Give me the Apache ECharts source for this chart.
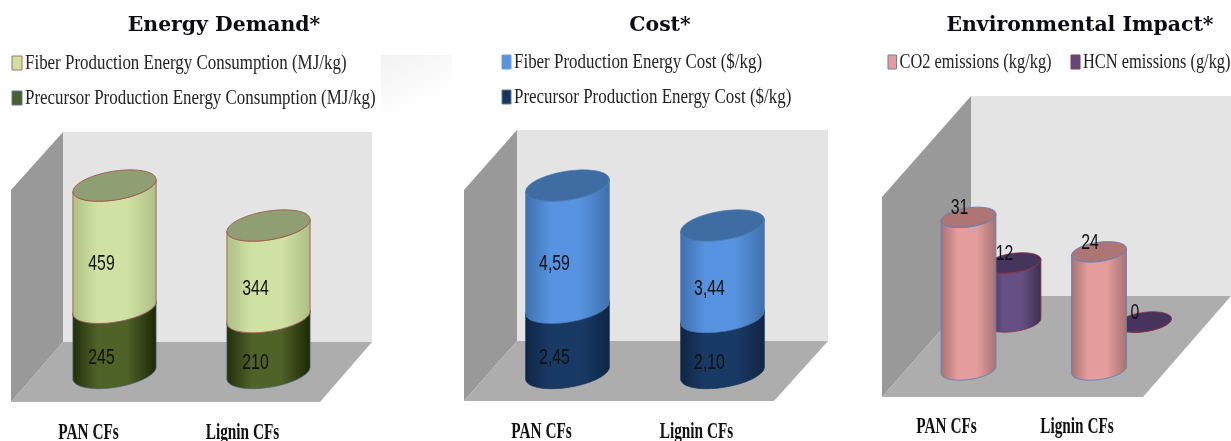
<!DOCTYPE html>
<html>
<head>
<meta charset="utf-8">
<style>html,body{margin:0;padding:0;background:#fff}#chart{width:1231px;height:441px}</style>
<script src="https://cdn.jsdelivr.net/npm/echarts@6/dist/echarts.min.js"></script>
</head>
<body>
<div id="chart"></div>
<script>
// Carbon fibre comparison: energy demand, cost and environmental impact
const categories = ['PAN CFs', 'Lignin CFs'];
const fiberEnergy = [459, 344];
const precursorEnergy = [245, 210];
const fiberCost = [4.59, 3.44];
const precursorCost = [2.45, 2.10];
const co2Emissions = [31, 24];
const hcnEmissions = [12, 0];

const SERIF = '"Liberation Serif",serif';
const SANS = '"Liberation Sans",sans-serif';
const hGrad = (edge, mid, edge2) => new echarts.graphic.LinearGradient(0, 0, 1, 0, [
  { offset: 0, color: edge }, { offset: 0.3, color: mid }, { offset: 0.65, color: mid }, { offset: 1, color: edge2 || edge }
]);

const palettes = {
  fiberGreen: { edge: '#aebf85', mid: '#d0e2a3', cap: '#8f9f73', line: 'rgba(160,85,75,0.85)', swatch: '#cfe0a0' },
  darkGreen: { edge: '#232e0c', mid: '#4f6227', edge2: '#1c2707', cap: '#4a5a26', line: 'rgba(70,100,120,0.7)', swatch: '#4a5f2e' },
  fiberBlue: { edge: '#3f70ae', mid: '#5793e0', cap: '#3f6ca3', line: 'rgba(74,120,180,0.7)', swatch: '#5793e0' },
  darkBlue: { edge: '#0f2545', mid: '#1a3a66', cap: '#17355e', line: 'rgba(20,48,79,0.7)', swatch: '#17365f' },
  pink: { edge: '#a67272', mid: '#e49c9c', cap: '#ad7573', line: 'rgba(95,128,187,0.9)', swatch: '#e49c9c' },
  purple: { edge: '#3d2c52', mid: '#665083', cap: '#46345c', line: 'rgba(138,48,64,0.8)', swatch: '#5d4a7c' }
};

// Sheared ellipse outline from angle t0 to t1
function arc(cx, cy, a, b, skew, t0, t1) {
  const pts = [];
  for (let k = 0; k <= 48; k++) {
    const t = t0 + (t1 - t0) * k / 48;
    pts.push([cx + a * Math.cos(t), cy + b * Math.sin(t) - skew * Math.cos(t)]);
  }
  return pts;
}

function cylinderSeries(name, values, bases, opt) {
  const pal = palettes[opt.palette];
  return {
    name,
    type: 'custom',
    coordinateSystem: 'cartesian2d',
    xAxisIndex: opt.panel,
    yAxisIndex: opt.panel,
    z: opt.z || 2,
    itemStyle: { color: pal.swatch },
    encode: { x: 0, y: [1, 2] },
    data: values.map((v, i) => [i, bases[i], bases[i] + v, v]),
    renderItem(params, api) {
      const i = api.value(0);
      const lo = api.coord([i, api.value(1)]);
      const hi = api.coord([i, api.value(2)]);
      const dx = opt.depthX || 0, dy = opt.depthY || 0;
      const cx = lo[0] + dx;
      const a = api.size([1, 0])[0] * opt.widthRatio / 2;
      const yLo = lo[1] + dy, yHi = hi[1] + dy;
      const body = [[cx - a, yHi + opt.skew]].concat(
        arc(cx, yLo, a, opt.minor, opt.skew, Math.PI, 0),
        [[cx + a, yHi - opt.skew]],
        arc(cx, yHi, a, opt.minor, opt.skew, 0, Math.PI)
      );
      const lineStyle = { stroke: pal.line, lineWidth: 1 };
      const txt = opt.format(api.value(3));
      const labelY = opt.labelAtTop ? yHi - 9 : (yLo + yHi) / 2 + 17.5;
      const children = [
        { type: 'polygon', shape: { points: body },
          style: Object.assign({ fill: hGrad(pal.edge, pal.mid, pal.edge2) }, lineStyle) },
        { type: 'polygon', shape: { points: arc(cx, yHi, a, opt.minor, opt.skew, 0, Math.PI * 2) },
          style: Object.assign({ fill: pal.cap }, lineStyle) },
        { type: 'text', z2: 10, x: cx - 13 + (opt.labelAtTop ? 4 : 0), y: labelY, scaleX: 0.72,
          style: { text: txt, fill: '#111', font: '22px ' + SANS, align: 'center', verticalAlign: 'middle' } }
      ];
      // Category caption sits under the front edge of the floor
      if (opt.caption) {
        children.push({ type: 'text', z2: 10, x: cx - opt.caption.back, y: lo[1] + opt.caption.drop, scaleX: 0.665,
          style: { text: categories[i], fill: '#111', font: 'bold 23px ' + SERIF, align: 'center', verticalAlign: 'middle' } });
      }
      return { type: 'group', children };
    }
  };
}

const zeros = [0, 0];
const plain = v => String(v);
const comma = v => v.toFixed(2).replace('.', ',');
const tall = { widthRatio: 0.54, skew: 6, minor: 14.5 };
const slim = { widthRatio: 0.42, skew: 3.4, minor: 9.6, labelAtTop: true, format: plain };

const series = [
  cylinderSeries('Precursor Production Energy Consumption (MJ/kg)', precursorEnergy, zeros,
    Object.assign({ panel: 0, palette: 'darkGreen', format: plain, caption: { back: 26, drop: 60 } }, tall)),
  cylinderSeries('Fiber Production Energy Consumption (MJ/kg)', fiberEnergy, precursorEnergy,
    Object.assign({ panel: 0, palette: 'fiberGreen', format: plain, z: 3 }, tall)),
  cylinderSeries('Precursor Production Energy Cost ($/kg)', precursorCost, zeros,
    Object.assign({ panel: 1, palette: 'darkBlue', format: comma, caption: { back: 26, drop: 59 } }, tall)),
  cylinderSeries('Fiber Production Energy Cost ($/kg)', fiberCost, precursorCost,
    Object.assign({ panel: 1, palette: 'fiberBlue', format: comma, z: 3 }, tall)),
  cylinderSeries('HCN emissions (g/kg)', hcnEmissions, zeros,
    Object.assign({ panel: 2, palette: 'purple', depthX: 45, depthY: -48 }, slim)),
  cylinderSeries('CO2 emissions (kg/kg)', co2Emissions, zeros,
    Object.assign({ panel: 2, palette: 'pink', z: 3, caption: { back: 22, drop: 57 } }, slim))
];

// Room behind each chart: back wall, side wall and floor
function room(back, left, floorFront) {
  const [bx0, bx1, by0, by1] = back;
  const [lx, lyTop, lyBottom] = left;
  return [
    { type: 'rect', z: -3, shape: { x: bx0, y: by0, width: bx1 - bx0, height: by1 - by0 }, style: { fill: '#e4e4e4' } },
    { type: 'polygon', z: -2, shape: { points: [[lx, lyTop], [bx0, by0], [bx0, by1], [lx, lyBottom]] }, style: { fill: '#999999' } },
    { type: 'polygon', z: -2, shape: { points: [[lx, lyBottom], [floorFront, lyBottom], [bx1, by1], [bx0, by1]] }, style: { fill: '#adadad' } }
  ];
}

// Legend entry: swatch plus condensed caption
function legendEntry(name, pal, border, x, y, w, squeeze) {
  return [
    { type: 'rect', z: 5, shape: { x, y: y - 7, width: w, height: 14 },
      style: { fill: palettes[pal].swatch, stroke: border, lineWidth: 1 } },
    { type: 'text', z: 5, x: x + w + 3, y, scaleX: squeeze || 0.77,
      style: { text: name, font: '22px ' + SERIF, fill: '#222', align: 'left', verticalAlign: 'middle' } }
  ];
}

function axisPair(panel, max) {
  return {
    x: { type: 'category', gridIndex: panel, data: categories,
      axisLine: { show: false }, axisTick: { show: false }, splitLine: { show: false }, axisLabel: { show: false } },
    y: { type: 'value', gridIndex: panel, show: false, min: 0, max, splitLine: { show: false } }
  };
}
const axes = [axisPair(0, 800), axisPair(1, 8), axisPair(2, 40)];

const option = {
  backgroundColor: '#ffffff',
  animation: false,
  title: [
    { text: 'Energy Demand*', left: 224, top: 16 },
    { text: 'Cost*', left: 660, top: 16 },
    { text: 'Environmental Impact*', left: 1080, top: 16 }
  ].map(t => Object.assign(t, { textAlign: 'center', padding: 0,
    textStyle: { fontFamily: '"DejaVu Serif",serif', fontWeight: 'bold', fontSize: 20.4, color: '#0c0c14' } })),
  grid: [
    { left: 37.5, width: 308, top: 160, height: 213 },
    { left: 490, width: 310, top: 160, height: 213 },
    { left: 903.25, width: 261, top: 173, height: 197 }
  ],
  xAxis: axes.map(a => a.x),
  yAxis: axes.map(a => a.y),
  graphic: [
    { type: 'rect', z: -4, shape: { x: 381, y: 55, width: 71, height: 58 },
      style: { fill: new echarts.graphic.LinearGradient(0, 0, 0.4, 1, [
        { offset: 0, color: '#f2f2f2' }, { offset: 1, color: '#ffffff' }]) } }
  ].concat(
    room([63, 372, 132, 342], [11, 190, 402], 320),
    room([517, 828, 130, 341], [464, 190, 401], 774),
    room([971, 1231, 96, 296], [882, 197, 397], 1143),
    legendEntry('Fiber Production Energy Consumption (MJ/kg)', 'fiberGreen', '#b06a60', 12, 63, 10),
    legendEntry('Precursor Production Energy Consumption (MJ/kg)', 'darkGreen', '#5b7a9a', 12, 98, 10),
    legendEntry('Fiber Production Energy Cost ($/kg)', 'fiberBlue', '#6aa0e0', 502, 62, 9),
    legendEntry('Precursor Production Energy Cost ($/kg)', 'darkBlue', '#5b7a9a', 502, 97, 9),
    legendEntry('CO2 emissions (kg/kg)', 'pink', '#5f80bb', 888, 62, 8.5, 0.745),
    legendEntry('HCN emissions (g/kg)', 'purple', '#a03040', 1071, 62, 9, 0.745)
  ),
  series
};

const chart = echarts.init(document.getElementById('chart'), null, { renderer: 'canvas' });
chart.setOption(option);
</script>
</body>
</html>
